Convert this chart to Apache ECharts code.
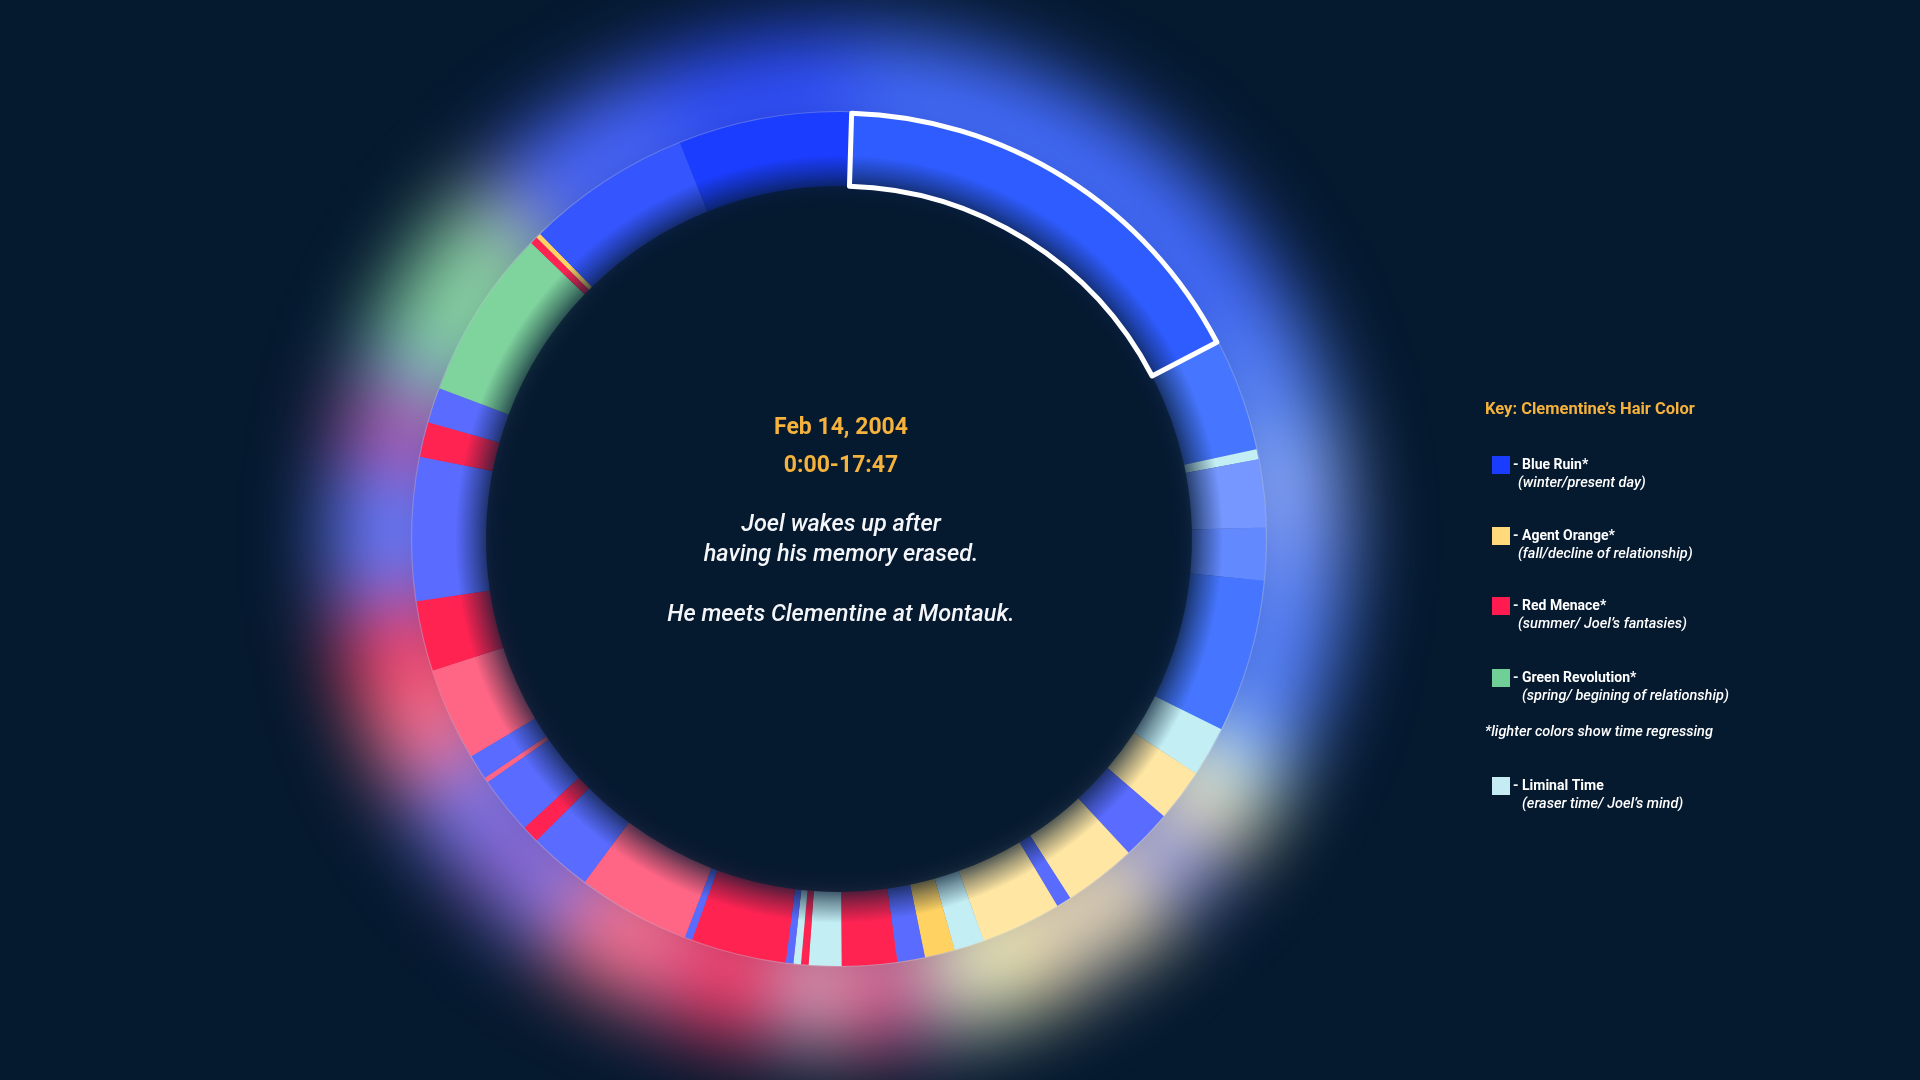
<!DOCTYPE html>
<html><head><meta charset="utf-8">
<script src="https://cdn.jsdelivr.net/npm/echarts@6/dist/echarts.min.js"></script>
<style>
html,body{margin:0;padding:0;background:#05192f;width:1920px;height:1080px;overflow:hidden}
#glow{position:absolute;left:0;top:0;width:1920px;height:1080px;filter:blur(40px)}
#main{position:absolute;left:0;top:0;width:1920px;height:1080px}
</style></head><body>
<div id="glow"></div><div id="main"></div>
<script>
// ---------- DATA (clockwise from the top of the ring) ----------
const segHair = [
  'Blue Ruin','Blue Ruin','Liminal Time','Blue Ruin','Blue Ruin','Blue Ruin','Liminal Time','Agent Orange',
  'Blue Ruin','Agent Orange','Blue Ruin','Agent Orange','Liminal Time','Agent Orange','Blue Ruin','Red Menace',
  'Liminal Time','Red Menace','Liminal Time','Blue Ruin','Red Menace','Blue Ruin','Red Menace','Blue Ruin',
  'Red Menace','Blue Ruin','Red Menace','Blue Ruin','Red Menace','Red Menace','Blue Ruin','Red Menace',
  'Blue Ruin','Green Revolution','Red Menace','Agent Orange','Blue Ruin','Blue Ruin'
];
// tone variant of each segment (higher = lighter / regressing shades)
const segTone = [
  1,2,0,3,6,2,0,1,
  4,1,4,1,0,0,4,0,
  0,0,0,4,0,4,1,4,
  0,4,1,4,1,0,4,0,
  4,0,0,0,5,0
];
// duration of each segment in minutes
const segMinutes = [
  17.8,4.5,0.4,2.7,2.1,6.1,2.0,2.1,
  2.0,2.9,0.6,3.2,1.2,1.2,1.1,2.2,
  1.3,0.3,0.3,0.3,3.8,0.3,4.5,2.5,
  0.7,2.3,0.2,1.0,3.7,2.8,5.7,1.4,
  1.4,6.8,0.3,0.2,6.6,6.9
];
const highlightIndex = 0;
const sceneDate = 'Feb 14, 2004';
const sceneTime = '0:00-17:47';
const sceneText = ['Joel wakes up after', 'having his memory erased.', 'He meets Clementine at Montauk.'];
const keyTitle = 'Key: Clementine\u2019s Hair Color';
const legendNames = ['Blue Ruin','Agent Orange','Red Menace','Green Revolution','Liminal Time'];
const legendLabels = ['- Blue Ruin*','- Agent Orange*','- Red Menace*','- Green Revolution*','- Liminal Time'];
const legendNotes = ['(winter/present day)','(fall/decline of relationship)','(summer/ Joel\u2019s fantasies)','(spring/ begining of relationship)','(eraser time/ Joel\u2019s mind)'];
const footNote = '*lighter colors show time regressing';

// ---------- STYLE ----------
const BG = '#05192f';
const PALETTE = {
  'Blue Ruin': ['#1b3dff','#2f5cff','#4676ff','#7597ff','#5a6cff','#3556ff','#6389ff'],
  'Agent Orange': ['#ffd262','#ffe6a2'],
  'Red Menace': ['#ff2352','#ff6585'],
  'Green Revolution': ['#7fd39d'],
  'Liminal Time': ['#c3eef3']
};
const KEYCOLOR = {'Blue Ruin':'#1a3cff','Agent Orange':'#ffd97a','Red Menace':'#ff1a50','Green Revolution':'#6fcf97','Liminal Time':'#c4ecf2'};
const CX = 839, CY = 539, R_IN = 353, R_OUT = 427, START = 88.3;
const FONT = 'Roboto, "Noto Sans", sans-serif';

const colorOf = i => PALETTE[segHair[i]][segTone[i]];
function lighten(hex, t) {
  const n = parseInt(hex.slice(1), 16);
  const r = (n >> 16) & 255, g = (n >> 8) & 255, b = n & 255;
  const m = c => Math.round(c + (255 - c) * t);
  return 'rgb(' + m(r) + ',' + m(g) + ',' + m(b) + ')';
}
const ringData = segMinutes.map((v, i) => ({ name: segHair[i], value: v, itemStyle: { color: colorOf(i) } }));
const glowData = segMinutes.map((v, i) => ({ name: segHair[i], value: v, itemStyle: { color: lighten(colorOf(i), 0.1) } }));
const hlData = segMinutes.map((v, i) => ({
  name: segHair[i], value: v,
  itemStyle: i === highlightIndex
    ? { color: 'rgba(0,0,0,0)', borderColor: '#ffffff', borderWidth: 5 }
    : { color: 'rgba(0,0,0,0)', borderWidth: 0 }
}));

const pieBase = {
  type: 'pie', center: [CX, CY], startAngle: START, clockwise: true, silent: true,
  label: { show: false }, labelLine: { show: false }, animation: false
};

// glow layer (blurred by CSS)
const glow = echarts.init(document.getElementById('glow'), null, { renderer: 'canvas' });
glow.setOption({
  backgroundColor: 'transparent',
  series: [Object.assign({}, pieBase, { radius: [380, 508], data: glowData })]
});

// main chart
const graphics = [];
graphics.push({
  type: 'circle', z: 5, silent: true,
  shape: { cx: CX, cy: CY, r: 384 },
  style: { fill: new echarts.graphic.RadialGradient(0.5, 0.5, 0.5, [
    { offset: 0, color: BG }, { offset: 0.86, color: BG },
    { offset: 0.905, color: 'rgba(5,25,47,0.82)' }, { offset: 0.95, color: 'rgba(5,25,47,0.4)' },
    { offset: 1, color: 'rgba(5,25,47,0)' }]) }
});
graphics.push({
  type: 'circle', z: 4, silent: true,
  shape: { cx: CX, cy: CY, r: R_OUT + 0.5 },
  style: { fill: 'none', stroke: 'rgba(255,255,255,0.2)', lineWidth: 1.2 }
});
// centre text
const tx = 841;
graphics.push({ type: 'text', z: 10, x: tx, y: 428, style: { text: sceneDate, font: 'bold 23px ' + FONT, fill: '#f5b23c', textAlign: 'center', textVerticalAlign: 'middle' } });
graphics.push({ type: 'text', z: 10, x: tx, y: 466, style: { text: sceneTime, font: 'bold 23px ' + FONT, fill: '#f5b23c', textAlign: 'center', textVerticalAlign: 'middle' } });
[525, 555, 615].forEach((y, k) => {
  graphics.push({ type: 'text', z: 10, x: tx, y: y, style: { text: sceneText[k], font: 'italic 500 23.5px ' + FONT, fill: '#f4f6fa', textAlign: 'center', textVerticalAlign: 'middle' } });
});
// key
graphics.push({ type: 'text', z: 10, x: 1485, y: 410, style: { text: keyTitle, font: 'bold 16.5px ' + FONT, fill: '#f5b23c', textAlign: 'left', textVerticalAlign: 'middle' } });
const keyY = [465, 536, 606, 678, 786];
const noteX = [1518, 1518, 1518, 1522, 1522];
legendNames.forEach((n, k) => {
  graphics.push({ type: 'rect', z: 10, shape: { x: 1492, y: keyY[k] - 9, width: 18, height: 18 }, style: { fill: KEYCOLOR[n] } });
  graphics.push({ type: 'text', z: 10, x: 1513, y: keyY[k], style: { text: legendLabels[k], font: 'bold 14px ' + FONT, fill: '#ffffff', textAlign: 'left', textVerticalAlign: 'middle' } });
  graphics.push({ type: 'text', z: 10, x: noteX[k], y: keyY[k] + 18, style: { text: legendNotes[k], font: 'italic 500 14.5px ' + FONT, fill: '#ffffff', textAlign: 'left', textVerticalAlign: 'middle' } });
});
graphics.push({ type: 'text', z: 10, x: 1485, y: 732, style: { text: footNote, font: 'italic 500 14.5px ' + FONT, fill: '#ffffff', textAlign: 'left', textVerticalAlign: 'middle' } });

const chart = echarts.init(document.getElementById('main'), null, { renderer: 'canvas' });
chart.setOption({
  backgroundColor: 'transparent',
  animation: false,
  series: [
    Object.assign({}, pieBase, { name: 'ring', radius: [R_IN, R_OUT], data: ringData, z: 2 }),
    Object.assign({}, pieBase, { name: 'highlight', radius: [R_IN, R_OUT - 1], data: hlData, z: 8 })
  ],
  graphic: { elements: graphics }
});
</script>
</body></html>
